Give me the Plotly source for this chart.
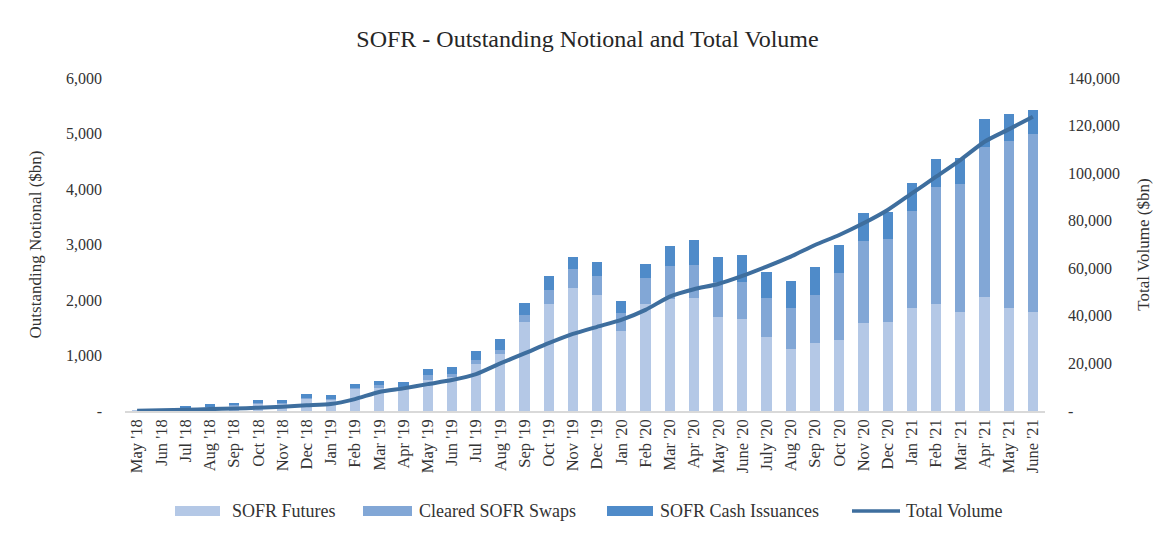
import plotly.graph_objects as go

months = ["May '18", "Jun '18", "Jul '18", "Aug '18", "Sep '18", "Oct '18", "Nov '18", "Dec '18",
          "Jan '19", "Feb '19", "Mar '19", "Apr '19", "May '19", "Jun '19", "Jul '19", "Aug '19",
          "Sep '19", "Oct '19", "Nov '19", "Dec '19", "Jan '20", "Feb '20", "Mar '20", "Apr '20",
          "May '20", "June '20", "July '20", "Aug '20", "Sep '20", "Oct '20", "Nov '20", "Dec '20",
          "Jan '21", "Feb '21", "Mar '21", "Apr '21", "May '21", "June '21"]

sofr_futures = [5, 10, 50, 75, 100, 140, 140, 220, 200, 400, 430, 400, 565, 612, 853, 1033,
                1609, 1928, 2211, 2090, 1447, 1928, 2013, 2031, 1688, 1658, 1339, 1117, 1220, 1279,
                1580, 1609, 1851, 1928, 1789, 2060, 1861, 1789]
cleared_swaps = [0, 0, 5, 5, 5, 10, 10, 15, 15, 20, 30, 35, 77, 60, 72, 72,
                 120, 252, 342, 348, 313, 463, 600, 600, 641, 673, 692, 733, 871, 1213,
                 1484, 1485, 1753, 2114, 2295, 2703, 3004, 3197]
cash_issuances = [0, 10, 35, 40, 45, 55, 55, 75, 65, 75, 80, 82, 113, 115, 155, 185,
                  222, 258, 228, 240, 222, 258, 360, 450, 450, 481, 480, 498, 511, 499,
                  499, 497, 499, 499, 480, 494, 481, 445]
total_volume = [100, 300, 500, 800, 1000, 1400, 1800, 2400, 2900, 5000, 8000, 9500, 11300, 13000,
                15500, 20000, 24200, 28500, 32400, 35400, 38300, 42500, 48100, 51200, 53400, 56800,
                60700, 64900, 69800, 74000, 78900, 84500, 91500, 98500, 105500, 113200, 118400, 123700]

left_tickvals = [0, 1000, 2000, 3000, 4000, 5000, 6000]
left_ticktext = ["-", "1,000", "2,000", "3,000", "4,000", "5,000", "6,000"]
right_tickvals = [0, 20000, 40000, 60000, 80000, 100000, 120000, 140000]
right_ticktext = ["-", "20,000", "40,000", "60,000", "80,000", "100,000", "120,000", "140,000"]

series_names = ["SOFR Futures", "Cleared SOFR Swaps", "SOFR Cash Issuances", "Total Volume"]
series_colors = ["#b4c8e6", "#82a7d6", "#4f8bc9", "#3e6e9e"]

FONT = "Liberation Serif"
TXT = "#333333"

fig = go.Figure()
for name, vals, col in zip(series_names[:3], [sofr_futures, cleared_swaps, cash_issuances], series_colors[:3]):
    fig.add_trace(go.Bar(x=months, y=vals, name=name, marker_color=col, marker_line_width=0,
                         showlegend=False))
fig.add_trace(go.Scatter(x=months, y=total_volume, name=series_names[3], mode="lines",
                         line=dict(color=series_colors[3], width=4, shape="spline", smoothing=0.6),
                         yaxis="y2", showlegend=False))

W, H = 1159, 525
ML, MR, MT, MB = 117, 122, 70, 122
PW, PH = W - ML - MR, H - MT - MB


def px(x):
    return (x - ML) / PW


def py(y):
    return (H - MB - y) / PH


# custom legend (wide swatches like the original)
leg_y = 503
swatches = [(167, 212, 222), (355, 404, 409), (599, 645, 650), (844, 892, 896)]
shapes = []
annotations = []
for i, (x0, x1, tx) in enumerate(swatches):
    if i < 3:
        shapes.append(dict(type="rect", xref="paper", yref="paper", x0=px(x0), x1=px(x1),
                           y0=py(leg_y + 5), y1=py(leg_y - 5), fillcolor=series_colors[i],
                           line=dict(width=0)))
    else:
        shapes.append(dict(type="line", xref="paper", yref="paper", x0=px(x0), x1=px(x1),
                           y0=py(leg_y), y1=py(leg_y), line=dict(color=series_colors[i], width=3.5)))
    annotations.append(dict(text=series_names[i], xref="paper", yref="paper", x=px(tx), y=py(leg_y),
                            xanchor="left", yanchor="middle", showarrow=False,
                            font=dict(family=FONT, size=18, color=TXT)))

fig.update_layout(
    width=W, height=H,
    barmode="stack", bargap=0.58,
    paper_bgcolor="white", plot_bgcolor="white",
    margin=dict(l=ML, r=MR, t=MT, b=MB, autoexpand=False),
    font=dict(family=FONT, color=TXT, size=16),
    title=dict(text="SOFR - Outstanding Notional and Total Volume", x=0.5, xanchor="center",
               y=1 - 31 / H, yanchor="middle", font=dict(family=FONT, size=24, color="#262626")),
    xaxis=dict(type="category", tickangle=-90, tickfont=dict(size=16.5, color=TXT),
               showline=True, linecolor="#d9d9d9", linewidth=1.5, ticks="", showgrid=False,
               range=[-0.5, len(months) - 0.5]),
    yaxis=dict(range=[0, 6000], tickvals=left_tickvals, ticktext=left_ticktext, showgrid=False,
               zeroline=False, showline=False, ticks="", tickfont=dict(size=16, color=TXT),
               ticklabelstandoff=22,
               title=dict(text="Outstanding Notional ($bn)", font=dict(size=17, color=TXT), standoff=20)),
    yaxis2=dict(range=[0, 140000], overlaying="y", side="right", tickvals=right_tickvals,
                ticktext=right_ticktext, showgrid=False, zeroline=False, showline=False, ticks="",
                tickfont=dict(size=16, color=TXT), ticklabelstandoff=22,
                title=dict(text="Total Volume ($bn)", font=dict(size=17, color=TXT), standoff=18)),
    shapes=shapes,
    annotations=annotations,
    showlegend=False,
)

fig.write_html("out.html")
